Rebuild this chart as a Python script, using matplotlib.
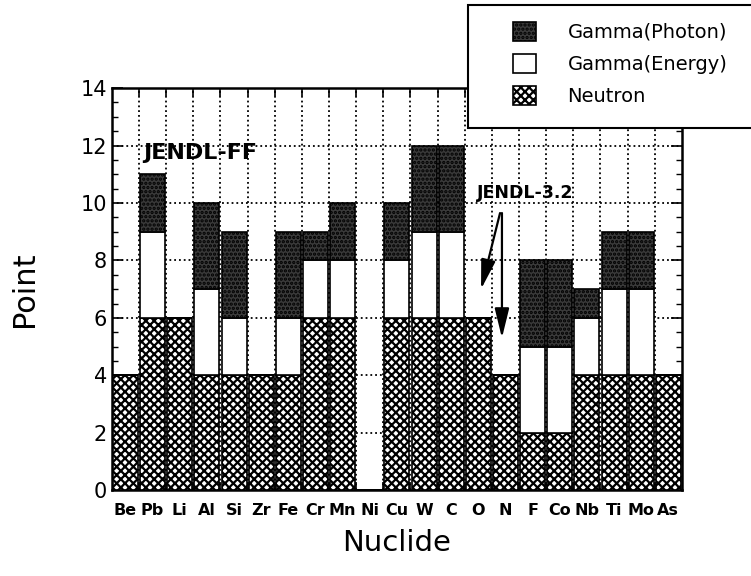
import numpy as np
import matplotlib
matplotlib.use('Agg')
import matplotlib.pyplot as plt
from matplotlib.patches import Rectangle
from matplotlib.ticker import MultipleLocator, FixedLocator, NullFormatter

nuclides = ['Be', 'Pb', 'Li', 'Al', 'Si', 'Zr', 'Fe', 'Cr', 'Mn', 'Ni', 'Cu',
            'W', 'C', 'O', 'N', 'F', 'Co', 'Nb', 'Ti', 'Mo', 'As']
neutron = [4, 6, 6, 4, 4, 4, 4, 6, 6, 0, 6, 6, 6, 6, 4, 2, 2, 4, 4, 4, 4]
gamma_energy = [0, 3, 0, 3, 2, 0, 2, 2, 2, 0, 2, 3, 3, 0, 0, 3, 3, 2, 3, 3, 0]
gamma_photon = [0, 2, 0, 3, 3, 0, 3, 1, 2, 0, 2, 3, 3, 0, 0, 3, 3, 1, 2, 2, 0]

plt.rcParams['font.family'] = 'DejaVu Sans'
plt.rcParams['hatch.linewidth'] = 1.6

fig = plt.figure(figsize=(7.51, 5.76), dpi=100)
ax = fig.add_axes([0.149, 0.149, 0.759, 0.698])

n = len(nuclides)
x = np.arange(n) + 0.04
neutron = np.array(neutron)
gamma_energy = np.array(gamma_energy)
gamma_photon = np.array(gamma_photon)

b1 = ax.bar(x, neutron, width=0.92, align='edge', color='white',
            edgecolor='black', hatch='xxxx', linewidth=1.2, zorder=3)
b2 = ax.bar(x, gamma_energy, width=0.92, align='edge', bottom=neutron,
            color='white', edgecolor='black', linewidth=1.2, zorder=3)
b3 = ax.bar(x, gamma_photon, width=0.92, align='edge',
            bottom=neutron + gamma_energy, color='#3a3a3a',
            edgecolor='black', hatch='....', linewidth=1.2, zorder=3)

ax.set_xlim(0, n)
ax.set_ylim(0, 14)

# labels at slot centres, tick marks at slot boundaries
ax.xaxis.set_major_locator(FixedLocator(np.arange(n) + 0.5))
ax.set_xticklabels(nuclides, fontsize=11.5, fontweight='bold')
ax.xaxis.set_minor_locator(FixedLocator(np.arange(1, n)))
ax.xaxis.set_minor_formatter(NullFormatter())
ax.tick_params(axis='x', which='major', length=0, pad=9)
ax.tick_params(axis='x', which='minor', direction='in', length=6,
               width=1.2, top=True, bottom=True)

ax.yaxis.set_major_locator(MultipleLocator(2))
ax.yaxis.set_minor_locator(MultipleLocator(0.5))
ax.tick_params(axis='y', which='major', direction='in', length=8,
               width=1.2, labelsize=15, right=True)
ax.tick_params(axis='y', which='minor', direction='in', length=4,
               width=1.0, right=True)

ax.grid(True, axis='y', which='major', linestyle=':', color='black',
        linewidth=1.3, zorder=0)
ax.grid(True, axis='x', which='minor', linestyle=':', color='black',
        linewidth=1.3, zorder=0)
ax.set_axisbelow(True)

for s in ax.spines.values():
    s.set_linewidth(1.8)

ax.set_xlabel('Nuclide', fontsize=21, labelpad=8)
ax.set_ylabel('Point', fontsize=22, labelpad=30)

ax.text(1.15, 11.75, 'JENDL-FF', fontsize=16, fontweight='bold',
        va='center', ha='left', zorder=5)
ax.text(13.45, 10.35, 'JENDL-3.2', fontsize=12.5, fontweight='bold',
        va='center', ha='left', zorder=5)
astyle = '-|>,head_width=0.22,head_length=0.9'
ax.annotate('', xy=(13.6, 7.0), xytext=(14.3, 9.65),
            arrowprops=dict(arrowstyle=astyle, color='black', lw=1.6,
                            mutation_scale=20, shrinkA=0, shrinkB=0),
            zorder=5)
ax.annotate('', xy=(14.37, 5.3), xytext=(14.37, 9.65),
            arrowprops=dict(arrowstyle=astyle, color='black', lw=1.6,
                            mutation_scale=20, shrinkA=0, shrinkB=0),
            zorder=5)

# legend box runs off the right edge of the figure
fig.patches.append(Rectangle((468 / 751, 1 - 128 / 576), 0.5, 123 / 576,
                             transform=fig.transFigure, facecolor='white',
                             edgecolor='black', linewidth=1.5, zorder=4))
leg = fig.legend(handles=[b3, b2, b1],
                 labels=['Gamma(Photon)', 'Gamma(Energy)', 'Neutron'],
                 loc='upper left', bbox_to_anchor=(513 / 751, 1 - 22 / 576),
                 fontsize=14, frameon=False, handlelength=1.2,
                 handleheight=1.1, handletextpad=1.6, borderpad=0,
                 labelspacing=0.62, borderaxespad=0)
leg.set_zorder(5)

fig.savefig('out.png', dpi=100)
